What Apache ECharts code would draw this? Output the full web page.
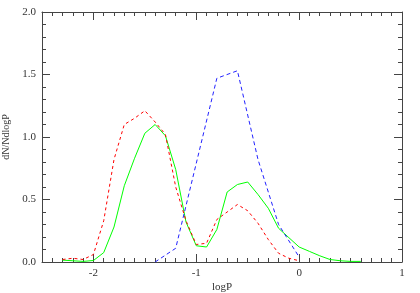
<!DOCTYPE html>
<html>
<head>
<meta charset="utf-8">
<script src="https://cdn.jsdelivr.net/npm/echarts@6/dist/echarts.min.js"></script>
<style>html,body{margin:0;padding:0;background:#fff}#c{width:420px;height:293px}</style>
</head>
<body>
<div id="c"></div>
<script>
var redX = [-2.3,-2.2,-2.1,-2.0,-1.9,-1.8,-1.7,-1.6,-1.5,-1.4,-1.3,-1.2,-1.1,-1.0,-0.9,-0.8,-0.7,-0.6,-0.5,-0.4,-0.3,-0.2,-0.1,0.0];
var redY = [0.02,0.03,0.02,0.06,0.33,0.82,1.10,1.15,1.21,1.12,1.02,0.60,0.33,0.14,0.15,0.34,0.40,0.46,0.41,0.31,0.18,0.07,0.03,0.01];
var greenX = [-2.3,-2.2,-2.1,-2.0,-1.9,-1.8,-1.7,-1.6,-1.5,-1.4,-1.3,-1.2,-1.1,-1.0,-0.9,-0.8,-0.7,-0.6,-0.5,-0.4,-0.3,-0.2,-0.1,0.0,0.1,0.2,0.3,0.4,0.5,0.6];
var greenY = [0.015,0.01,0.005,0.012,0.075,0.28,0.61,0.83,1.03,1.10,1.01,0.74,0.32,0.13,0.12,0.26,0.56,0.62,0.64,0.54,0.43,0.27,0.195,0.12,0.085,0.05,0.02,0.01,0.005,0.005];
var blueX = [-1.4,-1.2,-1.0,-0.8,-0.6,-0.4,-0.2,0.0];
var blueY = [0.0,0.11,0.79,1.47,1.53,0.82,0.30,0.04];
var xMajor = [-2,-1,0,1];

function pairs(xs, ys){ return xs.map(function(x,i){ return [x, ys[i]]; }); }

var axisCol = '#444';
var font = 'Liberation Serif';
function xAx(pos, longTicks, labels){
  var a = {
    type:'value', position:pos, min:-2.5, max:1, interval:0.1,
    axisLine:{show:true, onZero:false, lineStyle:{color:axisCol, width:1}},
    splitLine:{show:false},
    axisTick:{show:true, inside:true, length:longTicks?8:4, lineStyle:{color:axisCol}},
    axisLabel:{show:false}
  };
  if (longTicks) { a.axisTick.customValues = xMajor; a.axisLine.show = false; }
  if (labels) {
    a.axisLabel = {show:true, customValues:xMajor, margin:6, color:'#333', fontFamily:font, fontSize:11,
      formatter:function(v){ return String(Math.round(v)); }};
    a.name = 'logP'; a.nameLocation = 'middle'; a.nameGap = 20; a.nameMoveOverlap = false;
    a.nameTextStyle = {color:'#333', fontFamily:font, fontSize:11};
  }
  return a;
}
function yAx(pos, labels){
  var a = {
    type:'value', position:pos, min:0, max:2, interval:0.5,
    axisLine:{show:true, onZero:false, lineStyle:{color:axisCol, width:1}},
    splitLine:{show:false},
    axisTick:{show:true, inside:true, length:8, lineStyle:{color:axisCol}},
    minorTick:{show:true, splitNumber:5, length:4, lineStyle:{color:axisCol}},
    axisLabel:{show:false}
  };
  if (labels) {
    a.axisLabel = {show:true, margin:6, color:'#333', fontFamily:font, fontSize:11,
      formatter:function(v){ return v.toFixed(1); }};
    a.name = 'dN/NdlogP'; a.nameLocation = 'middle'; a.nameGap = 31; a.nameMoveOverlap = false;
    a.nameTextStyle = {color:'#333', fontFamily:font, fontSize:10};
  }
  return a;
}

var chart = echarts.init(document.getElementById('c'), null, {renderer:'canvas'});
chart.setOption({
  animation:false,
  backgroundColor:'#fff',
  grid:{left:42, right:18, top:12, bottom:31, containLabel:false, outerBoundsMode:'none'},
  xAxis:[xAx('bottom', false, true), xAx('bottom', true, false), xAx('top', false, false), xAx('top', true, false)],
  yAxis:[yAx('left', true), yAx('right', false)],
  series:[
    {type:'line', xAxisIndex:0, yAxisIndex:0, data:pairs(greenX, greenY), showSymbol:false,
     lineStyle:{color:'#00ff00', width:1}},
    {type:'line', xAxisIndex:0, yAxisIndex:0, data:pairs(redX, redY), showSymbol:false,
     lineStyle:{color:'#ff0000', width:1, type:[3,3]}},
    {type:'line', xAxisIndex:0, yAxisIndex:0, data:pairs(blueX, blueY), showSymbol:false,
     lineStyle:{color:'#2222ff', width:1, type:[4,3]}}
  ]
});
</script>
</body>
</html>
